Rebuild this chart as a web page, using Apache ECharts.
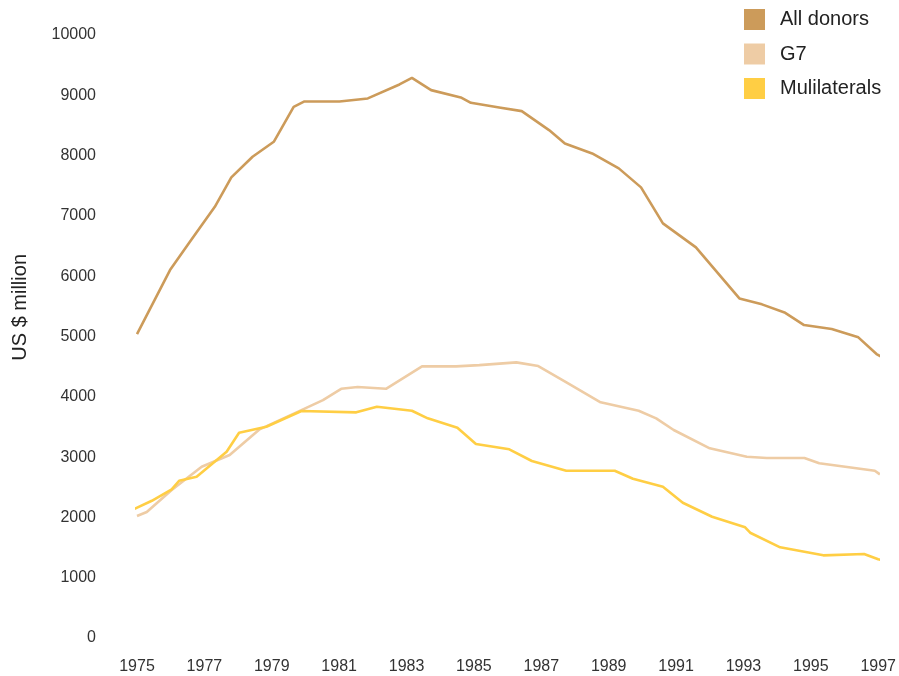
<!DOCTYPE html>
<html>
<head>
<meta charset="utf-8">
<script src="https://cdn.jsdelivr.net/npm/echarts@6/dist/echarts.min.js"></script>
<style>
html,body{margin:0;padding:0;background:#fff;}
#chart{width:899px;height:676px;}
</style>
</head>
<body>
<div id="chart"></div>
<script>
var seriesNames = ['All donors', 'G7', 'Mulilaterals'];
var xTickYears = [1975, 1977, 1979, 1981, 1983, 1985, 1987, 1989, 1991, 1993, 1995, 1997];
var yTicks = [0, 1000, 2000, 3000, 4000, 5000, 6000, 7000, 8000, 9000, 10000];

var allDonorsYears = [1975.00, 1975.98, 1976.57, 1977.31, 1977.80, 1978.43, 1979.06, 1979.65, 1979.97, 1981.01,
  1981.85, 1982.79, 1983.16, 1983.73, 1984.61, 1984.91, 1985.75, 1986.42, 1987.23, 1987.70,
  1988.51, 1989.30, 1989.96, 1990.61, 1991.59, 1992.88, 1993.55, 1994.24, 1994.80, 1995.62,
  1996.41, 1996.95, 1997.15];
var allDonorsValues = [5040, 6101, 6571, 7151, 7638, 7980, 8229, 8809, 8898, 8898,
  8948, 9180, 9290, 9086, 8965, 8875, 8799, 8738, 8423, 8202,
  8036, 7788, 7473, 6876, 6478, 5632, 5533, 5393, 5190, 5123,
  4986, 4709, 4647];

var g7Years = [1975.00, 1975.29, 1976.03, 1976.92, 1977.75, 1978.64, 1979.88, 1980.52, 1981.06, 1981.55,
  1982.39, 1983.46, 1984.47, 1985.16, 1986.26, 1986.91, 1987.72, 1988.76, 1989.89, 1990.41,
  1990.93, 1992.00, 1993.10, 1993.69, 1994.81, 1995.25, 1996.90, 1997.05];
var g7Values = [2023, 2089, 2454, 2840, 3034, 3460, 3780, 3946, 4133, 4162,
  4133, 4505, 4505, 4526, 4571, 4510, 4249, 3908, 3769, 3643,
  3449, 3146, 3006, 2984, 2984, 2897, 2774, 2714];

var multiYears = [1974.81, 1975.44, 1976.03, 1976.25, 1976.77, 1977.66, 1978.03, 1978.84, 1979.88, 1981.51,
  1982.12, 1983.16, 1983.63, 1984.51, 1985.06, 1986.05, 1986.72, 1987.74, 1989.18, 1989.72,
  1990.61, 1991.20, 1992.07, 1993.05, 1993.20, 1994.09, 1995.37, 1996.58, 1997.00, 1997.28];
var multiValues = [2111, 2276, 2465, 2608, 2674, 3089, 3404, 3503, 3764, 3742,
  3835, 3769, 3643, 3487, 3217, 3129, 2935, 2774, 2774, 2641,
  2509, 2243, 2011, 1835, 1746, 1504, 1371, 1393, 1305, 1282];

var colors = ['#CC9B5A', '#EECCA5', '#FFCE44'];

function pairs(xs, ys) {
  return xs.map(function (x, i) { return [x, ys[i]]; });
}

var chart = echarts.init(document.getElementById('chart'), null, { renderer: 'canvas' });
var font = 'Liberation Sans, Arial, sans-serif';

function makeSeries(name, xs, ys, color) {
  return {
    name: name,
    type: 'line',
    data: pairs(xs, ys),
    symbol: 'none',
    clip: false,
    lineStyle: { color: color, width: 2.6 },
    itemStyle: { color: color },
    animation: false
  };
}

chart.setOption({
  animation: false,
  backgroundColor: '#ffffff',
  color: colors,
  grid: { left: 137, right: 19, top: 35, bottom: 38, containLabel: false },
  legend: {
    orient: 'vertical',
    left: 739,
    top: 4,
    icon: 'rect',
    itemWidth: 21,
    itemHeight: 21,
    itemGap: 13.5,
    data: seriesNames,
    textStyle: { fontFamily: font, fontSize: 20, color: '#222', padding: [0, 0, 0, 10] }
  },
  xAxis: {
    type: 'value',
    min: xTickYears[0],
    max: xTickYears[xTickYears.length - 1],
    interval: 2,
    axisLine: { show: false },
    axisTick: { show: false },
    splitLine: { show: false },
    axisLabel: {
      show: true, showMinLabel: true, showMaxLabel: true,
      margin: 21, fontFamily: font, fontSize: 16, color: '#333',
      formatter: function (v) { return String(v); }
    }
  },
  yAxis: {
    type: 'value',
    min: yTicks[0],
    max: yTicks[yTicks.length - 1],
    interval: 1000,
    axisLine: { show: false },
    axisTick: { show: false },
    splitLine: { show: false },
    axisLabel: {
      margin: 41, fontFamily: font, fontSize: 16, color: '#333',
      formatter: function (v) { return String(v); }
    }
  },
  graphic: [{
    type: 'text',
    left: 10,
    top: 254,
    rotation: Math.PI / 2,
    style: { text: 'US $ million', font: '20px ' + font, fill: '#222' }
  }],
  series: [
    makeSeries(seriesNames[0], allDonorsYears, allDonorsValues, colors[0]),
    makeSeries(seriesNames[1], g7Years, g7Values, colors[1]),
    makeSeries(seriesNames[2], multiYears, multiValues, colors[2])
  ]
});
</script>
</body>
</html>
